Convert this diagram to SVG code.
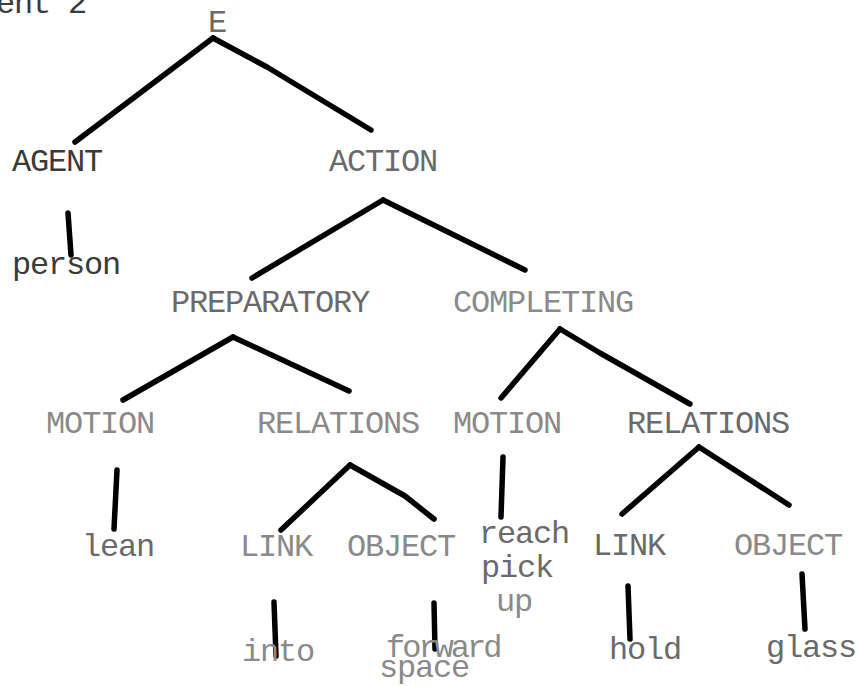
<svg xmlns="http://www.w3.org/2000/svg" width="857" height="686" viewBox="0 0 857 686">
<style>
  .t { font-family: "Liberation Mono", "Courier New", monospace; font-size: 32px; letter-spacing: -1.2px; fill: #6a6a6a; }
  .d { fill: #3a3a3a; }
  .l { fill: #8a8a8a; }
  .e { fill: none; stroke: #000; stroke-width: 5.5; stroke-linecap: round; stroke-linejoin: round; }
</style>
<rect width="857" height="686" fill="#fff"/>
<g id="connectors">
  <path class="e" d="M213,38 L75,142"/>
  <path class="e" d="M213,38 L267,67 L371,130"/>
  <path class="e" d="M68,213 L71,255"/>
  <path class="e" d="M383,200 L252,278"/>
  <path class="e" d="M383,200 L525,270"/>
  <path class="e" d="M233,337 L123,400"/>
  <path class="e" d="M233,337 L349,391"/>
  <path class="e" d="M560,329 L501,398"/>
  <path class="e" d="M560,329 L600,353 L690,404"/>
  <path class="e" d="M117,470 L114,529"/>
  <path class="e" d="M350,465 L281,530"/>
  <path class="e" d="M350,465 L405,496 L434,519"/>
  <path class="e" d="M503,457 L501,517"/>
  <path class="e" d="M699,447 L622,514"/>
  <path class="e" d="M699,447 L789,505"/>
  <path class="e" d="M274,602 L276,656"/>
  <path class="e" d="M434,603 L435,649"/>
  <path class="e" d="M628,586 L630,639"/>
  <path class="e" d="M802,574 L805,629"/>
</g>
<g id="header"><text class="t d" x="-4" y="13">ent 2</text></g>
<g id="n-E"><text class="t" x="208" y="32">E</text></g>
<g id="n-agent"><text class="t d" x="12" y="171">AGENT</text></g>
<g id="n-action"><text class="t" x="329" y="171">ACTION</text></g>
<g id="n-person"><text class="t d" x="12" y="274">person</text></g>
<g id="n-preparatory"><text class="t" x="171" y="312">PREPARATORY</text></g>
<g id="n-completing"><text class="t l" x="453" y="312">COMPLETING</text></g>
<g id="n-motion1"><text class="t l" x="46" y="433">MOTION</text></g>
<g id="n-relations1"><text class="t l" x="257" y="433">RELATIONS</text></g>
<g id="n-motion2"><text class="t l" x="453" y="433">MOTION</text></g>
<g id="n-relations2"><text class="t" x="627" y="433">RELATIONS</text></g>
<g id="n-lean"><text class="t" x="82" y="556">lean</text></g>
<g id="n-link1"><text class="t l" x="240" y="556">LINK</text></g>
<g id="n-object1"><text class="t l" x="347" y="556">OBJECT</text></g>
<g id="n-reach"><text class="t" x="479" y="543">reach</text><text class="t" x="481" y="577">pick</text><text class="t l" x="496" y="611">up</text></g>
<g id="n-link2"><text class="t" x="593" y="555">LINK</text></g>
<g id="n-object2"><text class="t l" x="734" y="555">OBJECT</text></g>
<g id="n-into"><text class="t l" x="242" y="661">into</text></g>
<g id="n-forward"><text class="t l" x="386" y="657" style="letter-spacing:-3px">forward</text><text class="t l" x="379" y="677">space</text></g>
<g id="n-hold"><text class="t" x="609" y="659">hold</text></g>
<g id="n-glass"><text class="t" x="766" y="657">glass</text></g>
</svg>
